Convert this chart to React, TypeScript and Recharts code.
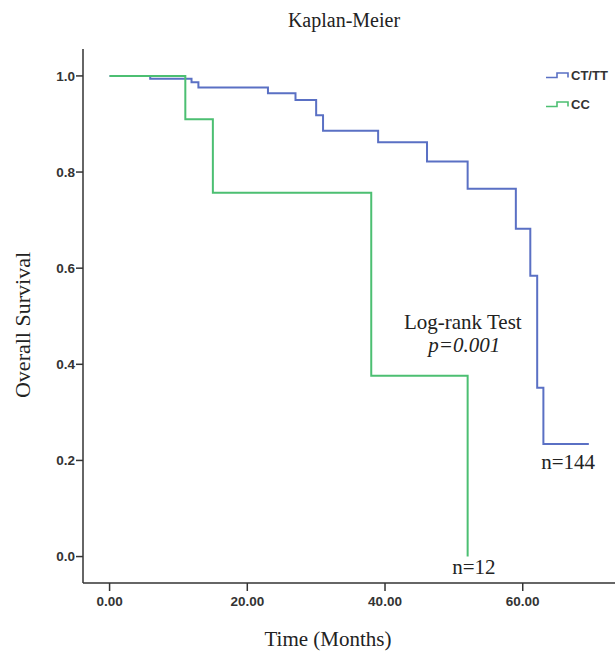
import { LineChart, Line, XAxis, YAxis, ReferenceDot, Legend } from 'recharts'

// Kaplan-Meier steps (months, survival)
const ctTimes = [0, 5.9, 11.9, 12.9, 23.0, 27.0, 30.0, 31.0, 39.0, 46.1, 52.0, 59.0, 61.1, 62.1, 63.0, 69.6]
const ctSurvival = [1.0, 0.994, 0.987, 0.976, 0.964, 0.95, 0.918, 0.886, 0.862, 0.822, 0.765, 0.682, 0.584, 0.351, 0.234, 0.234]

const ccTimes = [0, 11.0, 15.0, 38.0, 52.0]
const ccSurvival = [1.0, 0.91, 0.757, 0.376, 0.0]

const groups = ['CT/TT', 'CC']
const xTicks = [0, 20, 40, 60]
const yTicks = [0, 0.2, 0.4, 0.6, 0.8, 1.0]

const ctData = ctTimes.map((t, i) => ({ t, s: ctSurvival[i] }))
const ccData = ccTimes.map((t, i) => ({ t, s: ccSurvival[i] }))

const BLUE = '#5a70c4'
const GREEN = '#4cbf72'
const FRAME = '#333'
const SERIF = '"Liberation Serif", "Times New Roman", serif'
const SANS = '"Liberation Sans", Arial, sans-serif'

const tickStyle = { fontSize: 13.5, fontWeight: 700, fill: '#333', fontFamily: SANS }
const noteStyle = { fontSize: 21, fill: '#222', fontFamily: SERIF }

function StepIcon({ color }: { color: string }) {
  return (
    <svg width={23} height={8} style={{ display: 'block' }}>
      <path d="M0,6.5 H11 V2 H22 V6.5" fill="none" stroke={color} strokeWidth={1.6} />
    </svg>
  )
}

// keep the legend in the order of the original (CT/TT first)
function KmLegend({ payload }: any) {
  const items = groups
    .map((g) => (payload || []).find((p: any) => p.value === g))
    .filter(Boolean)
  return (
    <div style={{ fontFamily: SANS, fontSize: 13, fontWeight: 700, color: '#333' }}>
      {items.map((p: any) => (
        <div key={p.value} style={{ display: 'flex', alignItems: 'center', height: 16, marginBottom: 13 }}>
          <StepIcon color={p.color} />
          <span style={{ marginLeft: 2 }}>{p.value}</span>
        </div>
      ))}
    </div>
  )
}

export default function App() {
  return (
    <div style={{ position: 'absolute', left: 0, top: 0, background: '#fff' }}>
      <LineChart width={615} height={651} margin={{ top: 49, right: 0, bottom: 28, left: 0 }}>
        <XAxis
          dataKey="t"
          type="number"
          domain={[-3.86, 73.4]}
          allowDataOverflow
          ticks={xTicks}
          tickFormatter={(v: number) => v.toFixed(2)}
          tick={tickStyle}
          tickSize={8}
          tickMargin={5}
          height={40}
          stroke={FRAME}
          strokeWidth={1.5}
        />
        <XAxis
          xAxisId="top"
          orientation="top"
          type="number"
          domain={[-3.86, 73.4]}
          allowDataOverflow
          tick={false}
          tickLine={false}
          height={0}
          stroke={FRAME}
          strokeWidth={1.5}
        />
        <YAxis
          type="number"
          domain={[-0.055, 1.056]}
          allowDataOverflow
          ticks={yTicks}
          tickFormatter={(v: number) => v.toFixed(1)}
          tick={tickStyle}
          tickSize={7}
          tickMargin={1}
          width={83}
          stroke={FRAME}
          strokeWidth={1.5}
        />
        <Legend
          layout="horizontal"
          verticalAlign="middle"
          align="center"
          content={KmLegend}
          wrapperStyle={{ position: 'absolute', left: 546, top: 67, width: 70 }}
        />
        <Line
          data={ctData}
          dataKey="s"
          name={groups[0]}
          type="stepAfter"
          stroke={BLUE}
          strokeWidth={2}
          dot={false}
          isAnimationActive={false}
        />
        <Line
          data={ccData}
          dataKey="s"
          name={groups[1]}
          type="stepAfter"
          stroke={GREEN}
          strokeWidth={2}
          dot={false}
          isAnimationActive={false}
        />
        <ReferenceDot x={51.3} y={0.49} r={0} fill="none" stroke="none"
          label={{ value: 'Log-rank Test', position: 'center', ...noteStyle }} />
        <ReferenceDot x={51.5} y={0.442} r={0} fill="none" stroke="none"
          label={{ value: 'p=0.001', position: 'center', ...noteStyle, fontStyle: 'italic' }} />
        <ReferenceDot x={66.6} y={0.197} r={0} fill="none" stroke="none"
          label={{ value: 'n=144', position: 'center', ...noteStyle }} />
        <ReferenceDot x={52.9} y={-0.021} r={0} fill="none" stroke="none"
          label={{ value: 'n=12', position: 'center', ...noteStyle }} />
        <text x={344} y={27} textAnchor="middle" fontFamily={SERIF} fontSize={20} fill="#222">
          Kaplan-Meier
        </text>
        <text x={328} y={646} textAnchor="middle" fontFamily={SERIF} fontSize={21} fill="#222">
          Time (Months)
        </text>
        <text
          x={22}
          y={325}
          textAnchor="middle"
          dominantBaseline="central"
          transform="rotate(-90 22 325)"
          fontFamily={SERIF}
          fontSize={22}
          fill="#222"
        >
          Overall Survival
        </text>
      </LineChart>
    </div>
  )
}
